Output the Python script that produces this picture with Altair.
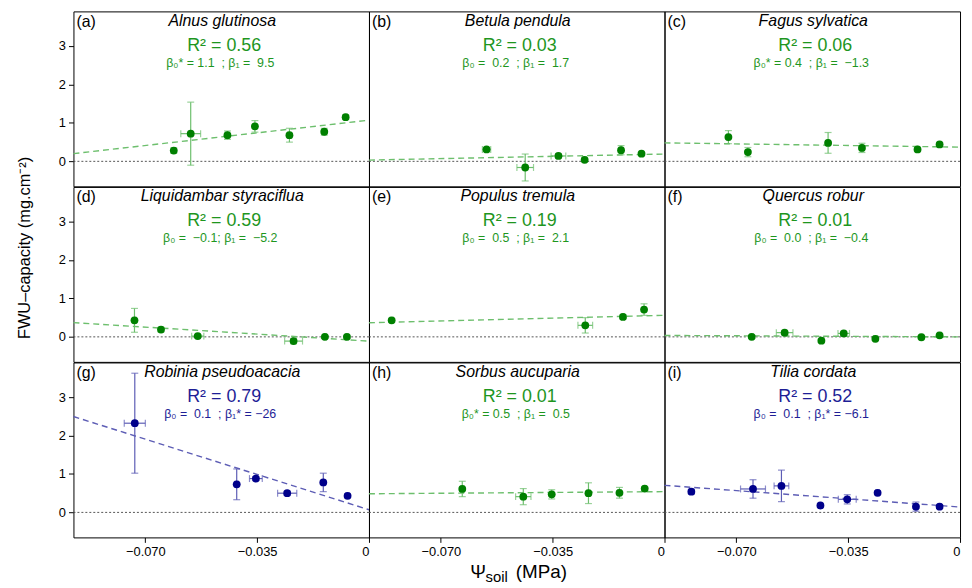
import altair as alt
import pandas as pd

# ---------------- data ----------------
panel_keys = ["a", "b", "c", "d", "e", "f", "g", "h", "i"]
species = {
    "a": "Alnus glutinosa", "b": "Betula pendula", "c": "Fagus sylvatica",
    "d": "Liquidambar styraciflua", "e": "Populus tremula", "f": "Quercus robur",
    "g": "Robinia pseudoacacia", "h": "Sorbus aucuparia", "i": "Tilia cordata",
}
r2_text = {
    "a": "R² = 0.56", "b": "R² = 0.03", "c": "R² = 0.06",
    "d": "R² = 0.59", "e": "R² = 0.19", "f": "R² = 0.01",
    "g": "R² = 0.79", "h": "R² = 0.01", "i": "R² = 0.52",
}
NB = "\u00a0"
coef_text = {
    "a": f"β₀* = 1.1{NB}{NB};{NB}β₁ ={NB}{NB}9.5",
    "b": f"β₀ ={NB}{NB}0.2{NB}{NB};{NB}β₁ ={NB}{NB}1.7",
    "c": f"β₀* = 0.4{NB}{NB};{NB}β₁ ={NB}{NB}−1.3",
    "d": f"β₀ ={NB}{NB}−0.1;{NB}β₁ ={NB}{NB}−5.2",
    "e": f"β₀ ={NB}{NB}0.5{NB}{NB};{NB}β₁ ={NB}{NB}2.1",
    "f": f"β₀ ={NB}{NB}0.0{NB}{NB};{NB}β₁ ={NB}{NB}−0.4",
    "g": f"β₀ ={NB}{NB}0.1{NB}{NB};{NB}β₁* = −26",
    "h": f"β₀* = 0.5{NB}{NB};{NB}β₁ ={NB}{NB}0.5",
    "i": f"β₀ ={NB}{NB}0.1{NB}{NB};{NB}β₁* = −6.1",
}
psi_x = {
    "a": [-0.0611, -0.0558, -0.0443, -0.0357, -0.0249, -0.0140, -0.0073],
    "b": [-0.0557, -0.0436, -0.0332, -0.0250, -0.0136, -0.0072],
    "c": [-0.0725, -0.0664, -0.0413, -0.0307, -0.0133, -0.0064],
    "d": [-0.0734, -0.0651, -0.0536, -0.0236, -0.0138, -0.0069],
    "e": [-0.0854, -0.0248, -0.0130, -0.0064],
    "f": [-0.0652, -0.0549, -0.0434, -0.0364, -0.0265, -0.0121, -0.0064],
    "g": [-0.0733, -0.0414, -0.0354, -0.0256, -0.0143, -0.0067],
    "h": [-0.0633, -0.0442, -0.0353, -0.0238, -0.0141, -0.0062],
    "i": [-0.0841, -0.0648, -0.0559, -0.0437, -0.0353, -0.0258, -0.0138, -0.0064],
}
fwu_y = {
    "a": [0.28, 0.72, 0.68, 0.91, 0.68, 0.77, 1.15],
    "b": [0.31, -0.16, 0.14, 0.04, 0.29, 0.20],
    "c": [0.63, 0.24, 0.48, 0.35, 0.31, 0.44],
    "d": [0.43, 0.19, 0.02, -0.11, 0.00, 0.00],
    "e": [0.43, 0.30, 0.52, 0.71],
    "f": [0.00, 0.11, -0.10, 0.09, -0.05, -0.01, 0.04],
    "g": [2.32, 0.73, 0.88, 0.50, 0.78, 0.43],
    "h": [0.61, 0.41, 0.47, 0.50, 0.51, 0.62],
    "i": [0.54, 0.61, 0.69, 0.18, 0.34, 0.51, 0.15, 0.15],
}
fwu_err = {
    "a": [0.07, 0.82, 0.11, 0.15, 0.18, 0.09, 0.06],
    "b": [0.04, 0.35, 0.05, 0.05, 0.12, 0.04],
    "c": [0.17, 0.12, 0.27, 0.12, 0.05, 0.05],
    "d": [0.31, 0.06, 0.04, 0.07, 0.04, 0.04],
    "e": [0.05, 0.20, 0.05, 0.15],
    "f": [0.04, 0.05, 0.04, 0.05, 0.04, 0.04, 0.04],
    "g": [1.30, 0.40, 0.05, 0.05, 0.24, 0.05],
    "h": [0.20, 0.21, 0.12, 0.27, 0.14, 0.05],
    "i": [0.06, 0.24, 0.41, 0.04, 0.12, 0.05, 0.12, 0.05],
}
psi_err = {
    "a": [0.0005, 0.0031, 0.0005, 0.0005, 0.0005, 0.0006, 0.0005],
    "b": [0.0013, 0.0026, 0.0023, 0.0005, 0.0005, 0.0005],
    "c": [0.0005, 0.0005, 0.0005, 0.0005, 0.0005, 0.0005],
    "d": [0.0005, 0.0005, 0.0019, 0.0028, 0.0005, 0.0005],
    "e": [0.0005, 0.0023, 0.0005, 0.0005],
    "f": [0.0005, 0.0026, 0.0005, 0.0018, 0.0005, 0.0005, 0.0005],
    "g": [0.0033, 0.0005, 0.0020, 0.0030, 0.0005, 0.0005],
    "h": [0.0005, 0.0024, 0.0005, 0.0005, 0.0005, 0.0005],
    "i": [0.0005, 0.0039, 0.0023, 0.0005, 0.0028, 0.0005, 0.0005, 0.0005],
}
intercept = {"a": 1.07, "b": 0.19, "c": 0.37, "d": -0.11, "e": 0.56,
             "f": 0.00, "g": 0.07, "h": 0.54, "i": 0.14}
slope = {"a": 9.4, "b": 1.7, "c": -1.2, "d": -5.2, "e": 2.1,
         "f": -0.4, "g": -26.2, "h": 0.6, "i": -6.1}
significant_slope = {"g", "i"}

# ---------------- styling ----------------
FONT = "Liberation Sans"
XMIN, XMAX = -0.0925, 0.0
YMIN, YMAX = -0.65, 3.9
W, H = 298, 176.4
GREEN_PT, GREEN_LT, GREEN_TX = "#008000", "#6dbf6d", "#1e961e"
BLUE_PT, BLUE_LT, BLUE_TX = "#00008b", "#5d5db5", "#1e1e96"


def make_panel(idx, key):
    row, col = divmod(idx, 3)
    show_x = row == 2
    show_y = col == 0
    blue = key in significant_slope
    c_pt = BLUE_PT if blue else GREEN_PT
    c_lt = BLUE_LT if blue else GREEN_LT
    c_tx = BLUE_TX if blue else GREEN_TX

    xs, ys = psi_x[key], fwu_y[key]
    ye, xe = fwu_err[key], psi_err[key]
    df = pd.DataFrame({
        "x": xs, "y": ys,
        "ylo": [a - b for a, b in zip(ys, ye)], "yhi": [a + b for a, b in zip(ys, ye)],
        "xlo": [a - b for a, b in zip(xs, xe)], "xhi": [a + b for a, b in zip(xs, xe)],
    })
    ycaps = pd.DataFrame({"x": xs + xs, "y": list(df["ylo"]) + list(df["yhi"])})
    xcaps = pd.DataFrame({"x": list(df["xlo"]) + list(df["xhi"]), "y": ys + ys})
    line_df = pd.DataFrame({"x": [XMIN, XMAX],
                            "y": [intercept[key] + slope[key] * XMIN,
                                  intercept[key] + slope[key] * XMAX]})
    zero_df = pd.DataFrame({"y": [0.0]})

    xscale = alt.Scale(domain=[XMIN, XMAX], nice=False, zero=False)
    yscale = alt.Scale(domain=[YMIN, YMAX], nice=False, zero=False)
    if show_x:
        xaxis = alt.Axis(values=[-0.07, -0.035, 0],
                         labelExpr="datum.value == 0 ? '0' : format(datum.value, '.3f')",
                         labelFontSize=13, labelFont=FONT, labelColor="black",
                         tickSize=5, tickColor="black", labelPadding=3,
                         domain=False, grid=False, title=None)
    else:
        xaxis = None
    if show_y:
        yaxis = alt.Axis(values=[0, 1, 2, 3], labelFontSize=13, labelFont=FONT,
                         labelColor="black", tickSize=5, tickColor="black",
                         labelPadding=3, domain=False, grid=False, title=None)
    else:
        yaxis = None

    def X(f):
        return alt.X(f, scale=xscale, axis=xaxis)

    def Y(f):
        return alt.Y(f, scale=yscale, axis=yaxis)

    layers = []
    layers.append(alt.Chart(zero_df).mark_rule(color="#555555", strokeDash=[2, 2], strokeWidth=1)
                  .encode(y=Y("y:Q")))
    layers.append(alt.Chart(line_df).mark_line(color=c_lt, strokeDash=[6, 4], strokeWidth=1.4)
                  .encode(x=X("x:Q"), y=Y("y:Q")))
    layers.append(alt.Chart(df).mark_rule(color=c_lt, strokeWidth=1.2)
                  .encode(x=X("x:Q"), y=Y("ylo:Q"), y2="yhi:Q"))
    layers.append(alt.Chart(df).mark_rule(color=c_lt, strokeWidth=1.2)
                  .encode(x=X("xlo:Q"), x2="xhi:Q", y=Y("y:Q")))
    layers.append(alt.Chart(ycaps).mark_tick(color=c_lt, orient="horizontal", size=7, thickness=1.2)
                  .encode(x=X("x:Q"), y=Y("y:Q")))
    layers.append(alt.Chart(xcaps).mark_tick(color=c_lt, orient="vertical", size=7, thickness=1.2)
                  .encode(x=X("x:Q"), y=Y("y:Q")))
    layers.append(alt.Chart(df).mark_circle(color=c_pt, size=62, opacity=1)
                  .encode(x=X("x:Q"), y=Y("y:Q")))

    def txt(s, x, y, size, color="black", align="center", style="normal", angle=0, baseline="alphabetic"):
        return (alt.Chart(pd.DataFrame({"t": [s]}))
                .mark_text(font=FONT, fontSize=size, color=color, align=align,
                           fontStyle=style, angle=angle, baseline=baseline)
                .encode(text="t:N", x=alt.value(x), y=alt.value(y)))

    layers.append(txt(f"({key})", 3, 15.5, 16, align="left"))
    layers.append(txt(species[key], 150, 14.5, 16, style="italic"))
    layers.append(txt(r2_text[key], 152, 39.5, 18, color=c_tx))
    layers.append(txt(coef_text[key], 148, 56, 12.5, color=c_tx))

    if key == "d":
        layers.append(txt("FWU–capacity (mg.cm⁻²)", -49, 61.5, 16.5,
                          angle=270, baseline="middle"))
    if key == "h":
        layers.append(txt("Ψ", 102, 217, 19, align="left"))
        layers.append(txt("soil", 117.5, 221.5, 15, align="left"))
        layers.append(txt("(MPa)", 148, 217, 19, align="left"))

    return alt.layer(*layers).properties(width=W, height=H)


panels = [make_panel(i, k) for i, k in enumerate(panel_keys)]

chart = (alt.concat(*panels, columns=3, spacing=0, bounds="flush")
         .properties(padding={"left": 8, "top": 0, "right": 0, "bottom": 0})
         .configure(font=FONT)
         .configure_view(stroke="black", strokeWidth=1))

chart.save("out.html", embed_options={"renderer": "svg", "actions": False})
